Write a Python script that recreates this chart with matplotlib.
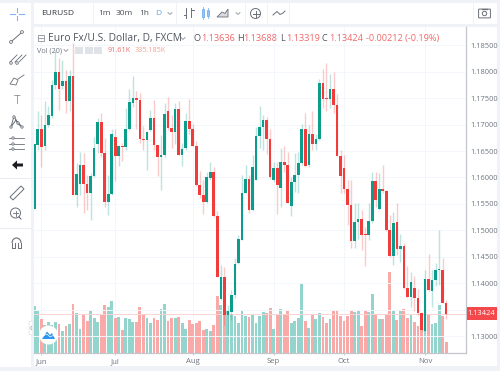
import matplotlib
matplotlib.use("Agg")
import matplotlib.pyplot as plt
from matplotlib.patches import Rectangle, Circle, FancyBboxPatch, Polygon, Arc

plt.rcParams["font.family"] = ["Open Sans", "DejaVu Sans"]

# ========= data =========
opens = [1.1540, 1.1661, 1.1692, 1.1660, 1.1699, 1.1717, 1.1774, 1.1799, 1.1773, 1.1783,
         1.1745, 1.1792, 1.1566, 1.1587, 1.1624, 1.1588, 1.1570, 1.1603, 1.1663, 1.1704,
         1.1647, 1.1554, 1.1568, 1.1676, 1.1641, 1.1659, 1.1657, 1.1691, 1.1741, 1.1751,
         1.1746, 1.1673, 1.1671, 1.1690, 1.1712, 1.1661, 1.1639, 1.1642, 1.1726, 1.1694,
         1.1685, 1.1729, 1.1643, 1.1656, 1.1707, 1.1692, 1.1660, 1.1585, 1.1567, 1.1554,
         1.1599, 1.1610, 1.1527, 1.1371, 1.1411, 1.1340, 1.1346, 1.1378, 1.1438, 1.1482,
         1.1571, 1.1597, 1.1538, 1.1596, 1.1678, 1.1696, 1.1709, 1.1672, 1.1595, 1.1618,
         1.1581, 1.1630, 1.1624, 1.1546, 1.1592, 1.1605, 1.1627, 1.1692, 1.1624, 1.1683,
         1.1664, 1.1673, 1.1778, 1.1749, 1.1748, 1.1767, 1.1737, 1.1641, 1.1618, 1.1579,
         1.1548, 1.1479, 1.1515, 1.1521, 1.1492, 1.1491, 1.1518, 1.1593, 1.1540, 1.1579,
         1.1574, 1.1501, 1.1452, 1.1516, 1.1464, 1.1470, 1.1392, 1.1375, 1.1392, 1.1373,
         1.1343, 1.1310, 1.1408, 1.1386, 1.1406, 1.1425, 1.1426, 1.13636]
highs = [1.1663, 1.1726, 1.1719, 1.1745, 1.1735, 1.1784, 1.1841, 1.1826, 1.1822, 1.1803,
         1.1803, 1.1854, 1.1627, 1.1649, 1.1646, 1.1605, 1.1608, 1.1676, 1.1712, 1.1721,
         1.1674, 1.1605, 1.1691, 1.1691, 1.1661, 1.1666, 1.1731, 1.1768, 1.1792, 1.1763,
         1.1760, 1.1697, 1.1688, 1.1727, 1.1746, 1.1661, 1.1680, 1.1741, 1.1753, 1.1718,
         1.1741, 1.1745, 1.1666, 1.1721, 1.1748, 1.1701, 1.1669, 1.1612, 1.1595, 1.1610,
         1.1629, 1.1620, 1.1537, 1.1435, 1.1431, 1.1359, 1.1387, 1.1447, 1.1491, 1.1605,
         1.1624, 1.1605, 1.1642, 1.1696, 1.1735, 1.1718, 1.1715, 1.1692, 1.1630, 1.1630,
         1.1655, 1.1660, 1.1649, 1.1601, 1.1646, 1.1649, 1.1702, 1.1722, 1.1699, 1.1725,
         1.1683, 1.1786, 1.1805, 1.1816, 1.1795, 1.1799, 1.1757, 1.1652, 1.1642, 1.1595,
         1.1595, 1.1551, 1.1551, 1.1539, 1.1507, 1.1551, 1.1611, 1.1611, 1.1608, 1.1624,
         1.1576, 1.1529, 1.1535, 1.1551, 1.1494, 1.1477, 1.1433, 1.1422, 1.1414, 1.1390,
         1.1345, 1.1425, 1.1455, 1.1425, 1.1438, 1.1501, 1.1447, 1.13688]
lows = [1.1540, 1.1652, 1.1620, 1.1652, 1.1695, 1.1712, 1.1768, 1.1727, 1.1767, 1.1721,
        1.1726, 1.1566, 1.1545, 1.1567, 1.1532, 1.1538, 1.1520, 1.1601, 1.1646, 1.1639,
        1.1545, 1.1529, 1.1567, 1.1594, 1.1622, 1.1632, 1.1652, 1.1690, 1.1734, 1.1692,
        1.1666, 1.1651, 1.1614, 1.1687, 1.1651, 1.1603, 1.1576, 1.1639, 1.1690, 1.1656,
        1.1664, 1.1642, 1.1622, 1.1651, 1.1683, 1.1659, 1.1584, 1.1562, 1.1531, 1.1551,
        1.1596, 1.1526, 1.1411, 1.1368, 1.1321, 1.1302, 1.1331, 1.1373, 1.1436, 1.1482,
        1.1570, 1.1532, 1.1537, 1.1595, 1.1655, 1.1652, 1.1644, 1.1598, 1.1592, 1.1531,
        1.1545, 1.1611, 1.1551, 1.1528, 1.1573, 1.1571, 1.1624, 1.1620, 1.1620, 1.1652,
        1.1652, 1.1671, 1.1732, 1.1726, 1.1731, 1.1721, 1.1640, 1.1570, 1.1570, 1.1510,
        1.1466, 1.1466, 1.1483, 1.1462, 1.1433, 1.1482, 1.1513, 1.1545, 1.1539, 1.1570,
        1.1498, 1.1450, 1.1435, 1.1453, 1.1441, 1.1390, 1.1373, 1.1356, 1.1348, 1.1340,
        1.1309, 1.1310, 1.1386, 1.1356, 1.1394, 1.1397, 1.1362, 1.13319]
closes = [1.1663, 1.1692, 1.1658, 1.1699, 1.1718, 1.1774, 1.1799, 1.1767, 1.1783, 1.1745,
          1.1792, 1.1566, 1.1607, 1.1624, 1.1588, 1.1570, 1.1603, 1.1656, 1.1704, 1.1647,
          1.1554, 1.1568, 1.1682, 1.1641, 1.1659, 1.1657, 1.1691, 1.1743, 1.1751, 1.1746,
          1.1673, 1.1671, 1.1686, 1.1712, 1.1661, 1.1639, 1.1642, 1.1720, 1.1694, 1.1685,
          1.1729, 1.1643, 1.1654, 1.1707, 1.1692, 1.1660, 1.1585, 1.1567, 1.1554, 1.1600,
          1.1610, 1.1528, 1.1411, 1.1411, 1.1340, 1.1348, 1.1377, 1.1436, 1.1483, 1.1571,
          1.1597, 1.1538, 1.1620, 1.1678, 1.1696, 1.1709, 1.1672, 1.1601, 1.1618, 1.1586,
          1.1630, 1.1624, 1.1552, 1.1592, 1.1605, 1.1627, 1.1692, 1.1622, 1.1683, 1.1664,
          1.1673, 1.1778, 1.1748, 1.1748, 1.1767, 1.1737, 1.1641, 1.1603, 1.1578, 1.1548,
          1.1479, 1.1515, 1.1521, 1.1491, 1.1491, 1.1518, 1.1593, 1.1557, 1.1579, 1.1574,
          1.1501, 1.1452, 1.1513, 1.1464, 1.1470, 1.1392, 1.1375, 1.1403, 1.1373, 1.1343,
          1.1312, 1.1408, 1.1387, 1.1406, 1.1425, 1.1426, 1.1363, 1.13424]
volumes = [396, 353, 286, 235, 257, 235, 263, 246, 187, 226, 243, 413, 336, 201, 317, 271, 356, 294,
           263, 322, 404, 390, 438, 291, 302, 192, 297, 283, 263, 257, 384, 328, 291, 254, 291, 280,
           370, 413, 269, 291, 297, 302, 252, 201, 274, 243, 254, 269, 189, 201, 187, 237, 481, 407,
           334, 351, 328, 308, 249, 351, 311, 302, 322, 254, 311, 345, 339, 379, 198, 319, 367, 328,
           356, 249, 269, 294, 582, 269, 206, 322, 283, 334, 300, 254, 286, 353, 362, 311, 269, 311,
           356, 342, 353, 226, 362, 342, 498, 328, 283, 283, 331, 687, 353, 277, 353, 370, 297, 319,
           263, 229, 192, 198, 325, 243, 252, 401, 311, 91.61]
price_ticks = [1.185, 1.18, 1.175, 1.17, 1.165, 1.16, 1.155, 1.15, 1.145, 1.14, 1.135, 1.13]
month_names = ["Jun", "Jul", "Aug", "Sep", "Oct", "Nov"]
month_pos = [2, 23, 45, 68, 88, 111]
last_price = 1.13424

GREEN = "#0b9c8b"
RED = "#f23c3c"
GREEN_VOL = "#93d5cc"
RED_VOL = "#f9a9a7"
GAP = "#eff2f7"
GRID = "#f3f6fa"
GREY = "#6f7680"
ICON = "#6a6f78"
BLUE = "#7db5f5"

W, H = 500, 371
fig = plt.figure(figsize=(W / 100, H / 100), dpi=100, facecolor=GAP)


def px_axes(x0, y0, x1, y1):
    # axes placed by pixel box, y measured from the top
    return fig.add_axes([x0 / W, 1 - y1 / H, (x1 - x0) / W, (y1 - y0) / H])


# ========= white panels + ui layer =========
ui = fig.add_axes([0, 0, 1, 1], zorder=0)
ui.set_xlim(0, W)
ui.set_ylim(H, 0)
ui.axis("off")
for x0, x1 in [(34, 92.5), (94, 175.5), (177, 244.5), (246, 266.5), (268, 288.5), (290, 472.5), (474, 497)]:
    ui.add_patch(Rectangle((x0, 3), x1 - x0, 21, fc="white", ec="none"))
ui.add_patch(Rectangle((0, 3), 31, 364, fc="white", ec="none"))
ui.add_patch(Rectangle((34, 27), 463, 339, fc="white", ec="none"))
ui.plot([0, 31], [178, 178], color="#e9ecf1", lw=0.8)
ui.plot([0, 31], [228, 228], color="#e9ecf1", lw=0.8)

# ========= volume + candles =========
left, right = 33.5, 466
top, bottom = 27, 352.7
xlim = ((left - 34.3) / 3.52, (right - 34.3) / 3.52)
xs = list(range(len(opens)))
up = [c >= o for o, c in zip(opens, closes)]

ax_vol = px_axes(left, top, right, bottom)
ax_vol.set_zorder(1)
ax_vol.set_xlim(*xlim)
ax_vol.set_ylim(0, 2762)
ax_vol.patch.set_alpha(0)
ax_vol.bar(xs, volumes, width=0.8, color=[GREEN_VOL if u else RED_VOL for u in up], linewidth=0, zorder=2)
ax_vol.set_xticks(month_pos)
ax_vol.set_yticks([])
ax_vol.set_xticklabels(month_names, fontsize=5.6, color=GREY)
ax_vol.tick_params(axis="x", length=1.5, width=0.5, color="#b5bac2", pad=2.5)
for s in ["top", "left"]:
    ax_vol.spines[s].set_visible(False)
ax_vol.spines["right"].set_color("#c3c7cd")
ax_vol.spines["right"].set_linewidth(0.9)
ax_vol.spines["bottom"].set_color("#c3c7cd")
ax_vol.spines["bottom"].set_linewidth(0.9)
for m in month_pos:
    ax_vol.axvline(m, color=GRID, lw=0.7, zorder=0)

ax = px_axes(left, top, right, bottom)
ax.set_zorder(2)
ax.patch.set_alpha(0)
ax.set_xlim(*xlim)
ax.set_ylim(1.12688, 1.18844)
ax.set_xticks([])
ax.yaxis.tick_right()
ax.set_yticks(price_ticks)
ax.set_yticklabels([f"{t:.5f}" for t in price_ticks], fontsize=5.4, color=GREY)
ax.tick_params(axis="y", length=0, pad=3)
for s in ax.spines.values():
    s.set_visible(False)
for t in price_ticks:
    ax.axhline(t, color=GRID, lw=0.7, zorder=0)

ax.vlines(xs, lows, highs, colors=[GREEN if u else RED for u in up], lw=1.0, alpha=0.27, zorder=2)
for i in xs:
    body = max(abs(closes[i] - opens[i]), 0.00018)
    ax.bar(i, body, bottom=min(opens[i], closes[i]), width=0.76,
           color=GREEN if up[i] else RED, linewidth=0, zorder=3)
ax.axhline(last_price, color="#fbd3d2", lw=0.7, zorder=1)

# ========= overlay (header text, toolbar icons) =========
ov = fig.add_axes([0, 0, 1, 1], zorder=3)
ov.set_xlim(0, W)
ov.set_ylim(H, 0)
ov.axis("off")
ov.patch.set_alpha(0)

# last price tag
ov.add_patch(Rectangle((466.5, 307), 30.5, 12.5, fc="#f4494c", ec="none"))
ov.text(481.5, 313.3, f"{last_price:.5f}", fontsize=5.4, color="white", ha="center", va="center")

for label, x, col in [("EURUSD", 41, "#30343b"), ("1m", 98, "#4a4f57"), ("30m", 116, "#4a4f57"),
                      ("1h", 139, "#4a4f57"), ("D", 155, "#5aa0f2")]:
    ov.text(x, 13.5, label, fontsize=6.0, color=col, va="center", ha="left")
ov.text(48, 38.5, "Euro Fx/U.S. Dollar, D, FXCM", fontsize=7.4, color="#50555d", va="center")
ov.add_patch(Rectangle((37.5, 34.5), 6.5, 6.5, fc="none", ec="#8a8f97", lw=0.6))
ov.plot([39, 42.5], [37.8, 37.8], color="#8a8f97", lw=0.6)
for label, x, val, xv in [("O", 194, "1.13636", 201), ("H", 237, "1.13688", 243),
                          ("L", 280, "1.13319", 286), ("C", 322, "1.13424", 329)]:
    ov.text(x, 38.5, label, fontsize=6.6, color="#50555d", va="center")
    ov.text(xv, 38.5, val, fontsize=6.6, color="#f0686a", va="center")
ov.text(366, 38.5, "-0.00212 (-0.19%)", fontsize=6.6, color="#f0686a", va="center")
ov.text(37, 50.5, "Vol (20)", fontsize=5.2, color="#6f7680", va="center")
for x in [75, 85, 94]:
    ov.add_patch(Rectangle((x, 47), 8, 7, fc="#dfe2e6", ec="none"))
ov.text(108, 50.5, "91.61K", fontsize=5.2, color="#f26b6b", va="center")
ov.text(135, 50.5, "335.185K", fontsize=5.2, color="#f9a08e", va="center")

# small chevrons
for cx, cy in [(170, 13.5), (238, 13.5), (66, 50.5), (183, 38.5)]:
    ov.plot([cx - 2, cx, cx + 2], [cy - 1, cy + 1, cy - 1], color="#8a8f97", lw=0.6)

# top bar icons
ov.plot([186, 186, 186], [8, 13, 18], color=ICON, lw=0.7)
ov.plot([183.5, 186], [15, 15], color=ICON, lw=0.7)
ov.plot([191, 191], [8, 17], color=ICON, lw=0.7)
ov.plot([191, 193.5], [10, 10], color=ICON, lw=0.7)
for x, y0, y1 in [(203, 9, 17), (208, 10, 16)]:
    ov.add_patch(Rectangle((x - 1.3, y0), 2.6, y1 - y0, fc="none", ec=BLUE, lw=0.7))
    ov.plot([x, x], [y0 - 2, y1 + 2], color=BLUE, lw=0.6)
ov.add_patch(Polygon([(217, 17), (222, 12), (225, 13.5), (228, 9), (228, 17)], fc="#d8dbe0", ec=ICON, lw=0.6))
ov.add_patch(Circle((255.5, 13.5), 5, fc="none", ec=ICON, lw=0.7))
ov.plot([252.5, 258.5], [13.5, 13.5], color=ICON, lw=0.7)
ov.plot([255.5, 255.5], [10.5, 16.5], color=ICON, lw=0.7)
ov.plot([273, 277, 280, 283, 285], [15, 11.5, 14.5, 13, 11], color=ICON, lw=0.7)
ov.add_patch(FancyBboxPatch((479, 9.5), 11, 8, boxstyle="round,pad=0.4", fc="none", ec=ICON, lw=0.7))
ov.add_patch(Circle((484.5, 13.5), 2.2, fc="none", ec=ICON, lw=0.7))
ov.plot([482, 487], [8.5, 8.5], color=ICON, lw=0.9)

# left toolbar icons
ov.plot([17, 17], [8, 12], color=BLUE, lw=0.8)
ov.plot([17, 17], [16, 20], color=BLUE, lw=0.8)
ov.plot([10, 15], [14, 14], color=BLUE, lw=0.8)
ov.plot([19, 24], [14, 14], color=BLUE, lw=0.8)
ov.plot([12, 21], [41, 33], color=ICON, lw=0.7)
for c in [(11, 42), (22, 32)]:
    ov.add_patch(Circle(c, 1.4, fc="white", ec=ICON, lw=0.6, zorder=4))
for dx in [0, 5, 9]:
    ov.plot([10 + dx, 17 + dx], [62, 55], color=ICON, lw=0.6)
ov.add_patch(Circle((11, 63), 1.3, fc="white", ec=ICON, lw=0.6, zorder=4))
ov.add_patch(Circle((17, 63), 1.3, fc="white", ec=ICON, lw=0.6, zorder=4))
ov.add_patch(Polygon([(10, 84), (14, 78), (18, 80), (16, 85)], fc="none", ec=ICON, lw=0.6))
ov.plot([18, 24], [79, 75], color=ICON, lw=0.6)
ov.text(17, 101, "T", fontsize=9, color=ICON, ha="center", va="center", fontweight="light")
ov.plot([11, 14, 18, 22, 16, 11], [127, 116, 124, 127, 120, 127], color=ICON, lw=0.7)
for c in [(11, 127), (14, 117), (22, 127), (18, 123)]:
    ov.add_patch(Circle(c, 1.2, fc="white", ec=ICON, lw=0.6, zorder=4))
for y in [138, 144, 149]:
    ov.plot([9, 24], [y, y], color=ICON, lw=0.6)
    ov.add_patch(Circle((13, y), 1.2, fc="white", ec=ICON, lw=0.6, zorder=4))
ov.add_patch(Polygon([(12, 165), (17, 160.5), (17, 163.5), (23, 163.5), (23, 166.5), (17, 166.5), (17, 169.5)],
                     fc="#1b1d22", ec="none"))
ov.add_patch(Polygon([(10, 197), (21, 186), (24, 189), (13, 200)], fc="none", ec=ICON, lw=0.7))
ov.add_patch(Circle((15.5, 213), 5, fc="none", ec=ICON, lw=0.7))
ov.plot([13, 18], [213, 213], color=ICON, lw=0.6)
ov.plot([15.5, 15.5], [210.5, 215.5], color=ICON, lw=0.6)
ov.plot([19, 21], [217, 219], color=ICON, lw=0.8)
ov.add_patch(Arc((16.5, 243), 9, 10, theta1=180, theta2=360, ec=ICON, lw=0.8))
ov.plot([12, 12, 15, 15], [243, 248, 248, 243], color=ICON, lw=0.7)
ov.plot([18, 18, 21, 21], [243, 248, 248, 243], color=ICON, lw=0.7)

# collapse tab + logo
ov.add_patch(FancyBboxPatch((29.5, 322), 3, 12, boxstyle="round,pad=0.4", fc="white", ec="#dfe2e6", lw=0.5))
ov.plot([31.8, 30.5, 31.8], [326, 328, 330], color="#9aa0a8", lw=0.5)
ov.add_patch(Circle((48.5, 335), 9.5, fc="white", ec="none", zorder=5))
ov.add_patch(Polygon([(42, 339), (47, 331.5), (50, 335), (52, 333), (55, 339)], fc="#2a95f2", ec="none", zorder=6))
ov.plot([43, 47, 50, 54], [336, 334, 337, 335], color="white", lw=0.5, zorder=7)

fig.savefig("out.png", dpi=100, facecolor=fig.get_facecolor())
